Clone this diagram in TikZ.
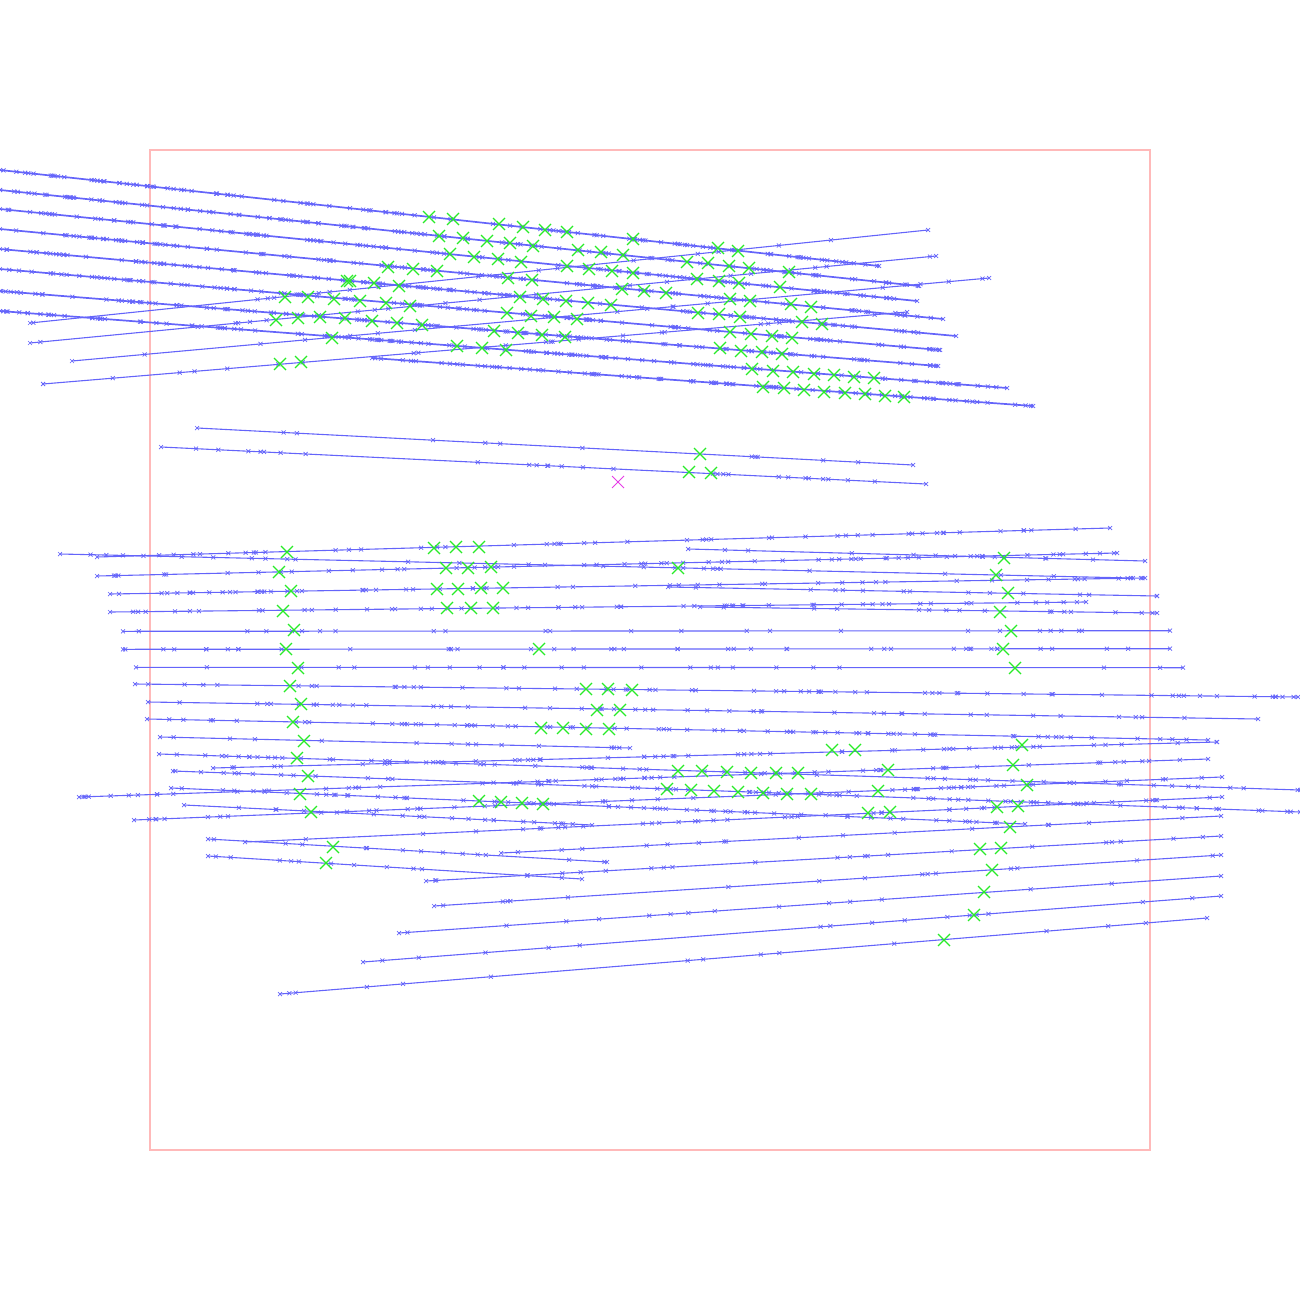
\documentclass[tikz,border=0pt]{standalone}
\usetikzlibrary{calc}
\definecolor{lblue}{RGB}{100,100,250}
\definecolor{gx}{RGB}{40,235,40}
\definecolor{pinkb}{RGB}{255,185,185}
\definecolor{mag}{RGB}{230,60,230}
\tikzset{
  ln/.style={lblue,line width=1.1pt},
  thickln/.style={lblue,line width=1.7pt},
  mk/.style={lblue,line width=0.7pt},
  gmark/.style={gx,line width=1.1pt},
  pinkbox/.style={pinkb,line width=1.2pt},
  magmark/.style={mag,line width=1pt}
}
% name, x1, y1, x2, y2, marker spacing, line style
\newcommand\lsegs[7]{%
  \coordinate (#1a) at (#2,#3);
  \coordinate (#1b) at (#4,#5);
  \draw[#7] (#1a) -- (#1b);
  \draw[mk] (#1a) +(-2,-2) -- +(2,2) +(-2,2) -- +(2,-2);
  \draw[mk] (#1b) +(-2,-2) -- +(2,2) +(-2,2) -- +(2,-2);
  \pgfmathtruncatemacro\nm{abs(#4-#2)/#6}
  \foreach \i in {1,...,\nm}{%
    \pgfmathsetmacro\t{rnd}
    \draw[mk] ($(#1a)!\t!(#1b)$) +(-2,-2) -- +(2,2) +(-2,2) -- +(2,-2);
  }%
}
\newcommand\lseg[6]{\lsegs{#1}{#2}{#3}{#4}{#5}{#6}{ln}}
\newcommand\tseg[6]{\lsegs{#1}{#2}{#3}{#4}{#5}{#6}{thickln}}
\begin{document}
\begin{tikzpicture}[x=1pt,y=-1pt]
\useasboundingbox (0,0) rectangle (1300,1300);
\pgfmathsetseed{7}
\draw[pinkbox] (150,150) rectangle (1150,1150);
% top cluster
\tseg{ta}{0}{170}{879}{266}{8}
\tseg{tb}{0}{190}{919}{286}{8}
\tseg{tc}{0}{209}{917}{301}{8}
\tseg{td}{0}{229}{943}{319}{8}
\tseg{te}{0}{249}{956}{336}{8}
\tseg{tf}{0}{269}{940}{350}{8}
\tseg{tg}{0}{291}{938}{366}{8}
\tseg{th}{0}{311}{1007}{388}{8}
\tseg{ti}{372}{358}{1033}{406}{8}
\lseg{ua}{30}{323}{928}{230}{55}
\lseg{ub}{30}{343}{936}{256}{40}
\lseg{uc}{72}{361}{989}{278}{60}
\lseg{ud}{43}{384}{907}{312}{35}
% middle
\lseg{ma}{197}{428}{913}{465}{60}
\lseg{mb}{161}{447}{926}{484}{28}
% bottom cluster
\lseg{ba}{97}{557}{1110}{528}{22}
\lseg{bb}{60}{554}{1131}{578}{40}
\lseg{bc}{688}{549}{1145}{561}{35}
\lseg{bd}{97}{576}{1117}{553}{18}
\lseg{be}{110}{594}{1145}{578}{18}
\lseg{bf}{668}{587}{1157}{596}{35}
\lseg{bg}{110}{612}{1086}{602}{18}
\lseg{bh}{700}{607}{1157}{613}{30}
\lseg{bi}{123}{631.3}{1170}{630.7}{45}
\lseg{bj}{123}{649.3}{1170}{648.7}{25}
\lseg{bk}{136}{667.3}{1183}{667.7}{45}
\lseg{bl}{135}{684}{1298}{697}{20}
\lseg{bm}{148}{702}{1258}{719}{25}
\lseg{bn}{147}{719}{1208}{740}{15}
\lseg{bo}{160}{737}{630}{748}{35}
\lseg{bp}{159}{754}{1300}{790}{20}
\lseg{bq}{213}{768}{1217}{742}{20}
\lseg{br}{79}{797}{1208}{759}{20}
\lseg{bs}{173}{771}{1300}{812}{15}
\lseg{bt}{171}{788}{1025}{824}{15}
\lseg{bu}{184}{805}{592}{825}{20}
\lseg{bv}{134}{820}{1222}{777}{20}
\lseg{bw}{245}{842}{1222}{797}{25}
\lseg{bx}{208}{839}{607}{862}{30}
\lseg{by}{208}{856}{582}{879}{30}
\lseg{bz}{501}{853}{1221}{816}{45}
\lseg{ca}{426}{881}{1221}{836}{35}
\lseg{cb}{434}{906}{1221}{855}{50}
\lseg{cc}{399}{933}{1221}{876}{55}
\lseg{cd}{363}{962}{1221}{896}{55}
\lseg{ce}{280}{994}{1207}{918}{70}
% green crosses
\foreach \x/\y in {
429/217,453/219,499/224,523/227,545/230,567/232,633/239,
439/236,463/238,487/241,510/243,533/246,
450/254,474/257,498/259,521/262,578/250,601/252,623/255,
388/267,413/269,437/271,567/266,589/269,612/271,633/273,
350/281,374/283,399/286,508/278,532/280,622/289,644/291,666/293,
360/301,386/303,410/306,520/297,543/299,566/301,588/303,611/305,
372/321,397/323,422/325,507/313,531/316,554/317,577/319,
494/331,518/333,542/335,565/337,
457/346,482/348,506/350,
285/297,308/297,334/299,347/281,
276/320,298/318,320/317,345/318,332/338,280/364,301/362,
718/248,738/251,687/262,708/263,729/266,749/268,789/272,
697/279,719/281,739/283,780/287,
730/299,750/301,791/304,811/307,
698/313,719/314,740/317,802/322,822/324,
730/332,751/334,772/336,792/338,
720/348,741/351,762/352,782/354,
752/369,773/371,793/372,814/374,834/375,854/377,874/378,
763/387,784/388,804/390,824/392,845/393,865/394,885/396,904/397,
700/454,689/472,711/473,
287/552,434/548,456/547,479/547,
279/572,446/568,468/568,491/567,678/568,
291/591,437/589,458/589,481/588,503/588,
283/611,447/608,471/608,493/608,
294/630,286/649,539/649,298/668,290/686,
586/689,608/689,632/690,301/704,597/710,620/710,
293/722,541/728,563/728,586/729,609/729,
304/741,832/750,855/750,1022/745,
297/758,888/770,1013/765,
308/776,678/771,702/771,727/772,751/773,776/773,798/773,
300/794,878/791,1027/785,
667/789,691/790,714/791,738/792,763/793,787/794,811/794,
479/801,501/802,522/803,543/804,
311/812,868/813,890/812,997/807,1018/806,
1010/827,333/847,326/863,980/849,1001/848,
992/870,984/892,974/915,944/940,
1004/558,996/575,1008/593,1000/612,1011/631,1003/649,1015/668}
  \draw[gmark] (\x,\y) +(-6,-6) -- +(6,6) +(-6,6) -- +(6,-6);
% magenta cross
\coordinate (mg) at (618,482);
\draw[magmark] (mg) +(-6,-6) -- +(6,6) +(-6,6) -- +(6,-6);
\end{tikzpicture}
\end{document}
